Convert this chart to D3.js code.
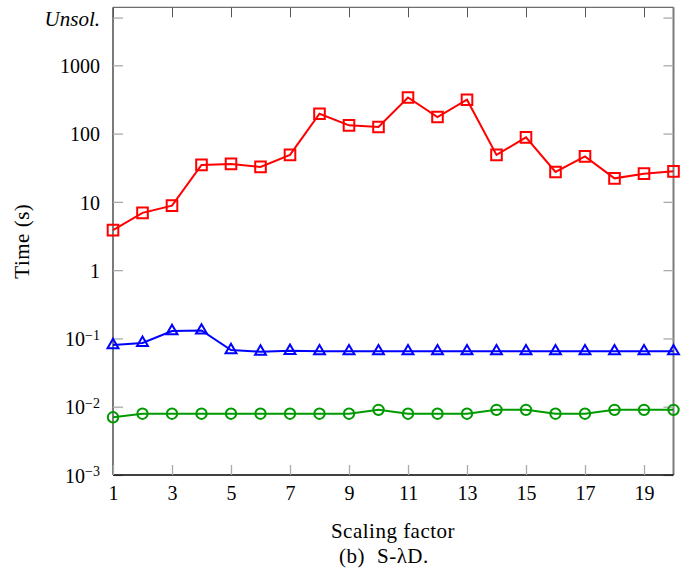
<!DOCTYPE html>
<html>
<head>
<meta charset="utf-8">
<script src="https://cdn.jsdelivr.net/npm/d3@7"></script>
<style>
  body { margin: 0; background: #fff; }
</style>
</head>
<body>
<script>
(function(){

    //scaling factors on the x axis
    var factors = d3.range(1, 21);
    var xTicks = [1, 3, 5, 7, 9, 11, 13, 15, 17, 19];

    //time values (s) for each series
    var redTimes = [3.85, 6.9, 8.8, 34.8, 36, 32.5, 48.7, 195, 132, 125,
                    338, 175, 313, 48.7, 88, 27.4, 46.4, 22.1, 25.9, 28];
    var blueTimes = [0.080, 0.086, 0.128, 0.131, 0.0675, 0.064, 0.066, 0.065, 0.065, 0.065,
                     0.065, 0.065, 0.065, 0.065, 0.065, 0.065, 0.065, 0.065, 0.065, 0.065];
    var greenTimes = [0.0070, 0.0079, 0.0079, 0.0079, 0.0079, 0.0079, 0.0079, 0.0079, 0.0079, 0.0090,
                      0.0079, 0.0079, 0.0079, 0.0090, 0.0090, 0.0079, 0.0079, 0.0090, 0.0090, 0.0090];

    //y ticks and their labels
    var yTicks = [1e-3, 1e-2, 1e-1, 1, 10, 100, 1000, 5000];
    var yLabels = [["10", "\u22123"], ["10", "\u22122"], ["10", "\u22121"], ["1"], ["10"], ["100"], ["1000"], ["Unsol."]];

    var width = 691, height = 588;
    var left = 113, right = 673.5, top = 7.3, bottom = 475;
    var serif = "'Liberation Serif'";

    var svg = d3.select("body").append("svg")
        .attr("width", width)
        .attr("height", height);

    var x = d3.scaleLinear().domain([1, 20]).range([left, right]);
    var y = d3.scaleLog().domain([1e-3, 7070]).range([bottom, top]);

    //frame
    svg.append("line").attr("x1", left).attr("x2", right).attr("y1", top).attr("y2", top)
        .attr("stroke", "#6e6e6e").attr("stroke-width", 1.3);
    svg.append("line").attr("x1", left).attr("x2", left).attr("y1", top).attr("y2", bottom)
        .attr("stroke", "#7a7a7a").attr("stroke-width", 2);
    svg.append("line").attr("x1", right).attr("x2", right).attr("y1", top).attr("y2", bottom)
        .attr("stroke", "#7a7a7a").attr("stroke-width", 2);

    //left axis with inward ticks
    var yAxis = d3.axisLeft(y).tickValues(yTicks).tickSize(-10).tickPadding(13).tickFormat("");
    var gy = svg.append("g").attr("transform", "translate(" + left + ",0)").call(yAxis);
    gy.select(".domain").remove();
    gy.selectAll(".tick line").attr("stroke", "#aaa").attr("stroke-width", 1.3);
    gy.selectAll(".tick text").each(function(d, i){
        var t = d3.select(this).attr("dy", "0.36em");
        var lab = yLabels[i];
        if (lab[0] == "Unsol.") {
            t.attr("class", "unsol").style("font-style", "italic").text(lab[0]);
        } else {
            t.append("tspan").text(lab[0]);
            if (lab[1]) {
                t.append("tspan").attr("dy", "-0.45em").attr("class", "sup").text(lab[1]);
            }
        }
    });

    //right axis ticks
    var gr = svg.append("g").attr("transform", "translate(" + right + ",0)")
        .call(d3.axisRight(y).tickValues(yTicks).tickSize(-10).tickFormat(""));
    gr.select(".domain").remove();
    gr.selectAll(".tick line").attr("stroke", "#aaa").attr("stroke-width", 1.3);

    //bottom axis
    var gx = svg.append("g").attr("transform", "translate(0," + bottom + ")")
        .call(d3.axisBottom(x).tickValues(xTicks).tickSize(-10).tickPadding(10).tickFormat(d3.format("d")));
    gx.select(".domain").attr("d", "M" + left + ",0H" + right).attr("stroke", "#000").attr("stroke-width", 1.3);
    gx.selectAll(".tick line").attr("stroke", "#aaa").attr("stroke-width", 1.3);
    gx.selectAll(".tick text").attr("dy", "0.75em");

    //top axis ticks
    var gt = svg.append("g").attr("transform", "translate(0," + top + ")")
        .call(d3.axisTop(x).tickValues(xTicks).tickSize(-10).tickFormat(""));
    gt.select(".domain").remove();
    gt.selectAll(".tick line").attr("stroke", "#555").attr("stroke-width", 1);

    //series
    var line = d3.line()
        .x(function(d, i){ return x(factors[i]); })
        .y(function(d){ return y(d); });

    function drawSeries(values, color, shape){
        svg.append("path")
            .datum(values)
            .attr("fill", "none")
            .attr("stroke", color)
            .attr("stroke-width", 2)
            .attr("d", line);
        svg.selectAll(null)
            .data(values)
            .enter()
            .append("path")
            .attr("transform", function(d, i){ return "translate(" + x(factors[i]) + "," + y(d) + ")"; })
            .attr("d", shape)
            .attr("fill", "none")
            .attr("stroke", color)
            .attr("stroke-width", 2);
    }

    var square = "M-5.3,-5.3H5.3V5.3H-5.3Z";
    var r = 6.3;
    var triangle = "M0," + (-r) + "L" + (r * 0.866) + "," + (r / 2) + "L" + (-r * 0.866) + "," + (r / 2) + "Z";
    var circle = d3.symbol().type(d3.symbolCircle).size(Math.PI * 5.2 * 5.2)();

    drawSeries(greenTimes, "#009a00", circle);
    drawSeries(blueTimes, "#0000ff", triangle);
    drawSeries(redTimes, "#ff0000", square);

    //all tick text in the serif face
    svg.selectAll("text")
        .style("font-family", serif)
        .style("font-size", "20px")
        .style("fill", "#000");
    svg.selectAll(".sup").style("font-size", "14px");
    svg.selectAll(".unsol").style("font-size", "21px");

    //axis labels
    function label(sel){
        return sel.style("font-family", serif)
            .style("font-size", "21px")
            .style("letter-spacing", "0.5px")
            .style("fill", "#000");
    }

    svg.append("text")
        .attr("transform", "translate(29," + ((top + bottom) / 2) + ") rotate(-90)")
        .attr("text-anchor", "middle")
        .text("Time (s)")
        .call(label);

    svg.append("text")
        .attr("x", 393)
        .attr("y", 538)
        .attr("text-anchor", "middle")
        .text("Scaling factor")
        .call(label);

    //caption
    svg.append("text")
        .attr("x", 339)
        .attr("y", 563)
        .text("(b)")
        .call(label);
    svg.append("text")
        .attr("x", 377)
        .attr("y", 563)
        .text("S-\u03bbD.")
        .call(label);

})();
</script>
</body>
</html>
